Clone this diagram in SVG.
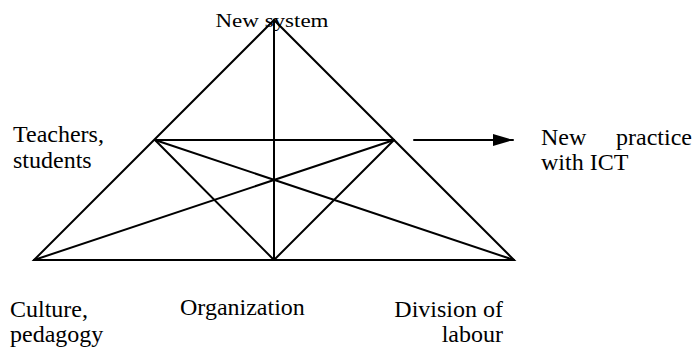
<svg xmlns="http://www.w3.org/2000/svg" width="694" height="347" viewBox="0 0 694 347">
<style>
.ln{stroke:#000;stroke-width:2;fill:none;stroke-linecap:round}
.t{font-family:"Liberation Serif","Times New Roman",serif;font-size:24px;fill:#000}
</style>
<defs>
<marker id="ah" viewBox="0 0 20 12" refX="20" refY="6" markerWidth="20" markerHeight="12" markerUnits="userSpaceOnUse" orient="auto">
<path d="M0,0 L20,6 L0,12 Z" fill="#000"/>
</marker>
</defs>
<rect width="694" height="347" fill="#fff"/>
<g id="connectors">
<path class="ln" d="M274,20 L34,260 L514,260 Z"/>
<line class="ln" x1="155" y1="140" x2="394" y2="140"/>
<line class="ln" x1="274" y1="20" x2="274" y2="260"/>
<line class="ln" x1="155" y1="140" x2="274" y2="260"/>
<line class="ln" x1="394" y1="140" x2="274" y2="260"/>
<line class="ln" x1="155" y1="140" x2="514" y2="260"/>
<line class="ln" x1="394" y1="140" x2="34" y2="260"/>
<line class="ln" x1="414" y1="140" x2="513" y2="140" marker-end="url(#ah)"/>
</g>
<g id="node-new-system"><text class="t" transform="translate(272,27) scale(1,0.8)" text-anchor="middle" style="font-size:23px">New system</text></g>
<g id="node-teachers"><text class="t" x="13" y="142">Teachers,</text><text class="t" x="13" y="168">students</text></g>
<g id="node-new-practice"><text class="t" x="541" y="145">New</text><text class="t" x="692" y="145" text-anchor="end">practice</text><text class="t" x="541" y="170">with ICT</text></g>
<g id="node-culture"><text class="t" x="10" y="317">Culture,</text><text class="t" x="10" y="342">pedagogy</text></g>
<g id="node-organization"><text class="t" x="180" y="315">Organization</text></g>
<g id="node-division"><text class="t" x="503" y="317" text-anchor="end">Division of</text><text class="t" x="503" y="342" text-anchor="end">labour</text></g>
</svg>
